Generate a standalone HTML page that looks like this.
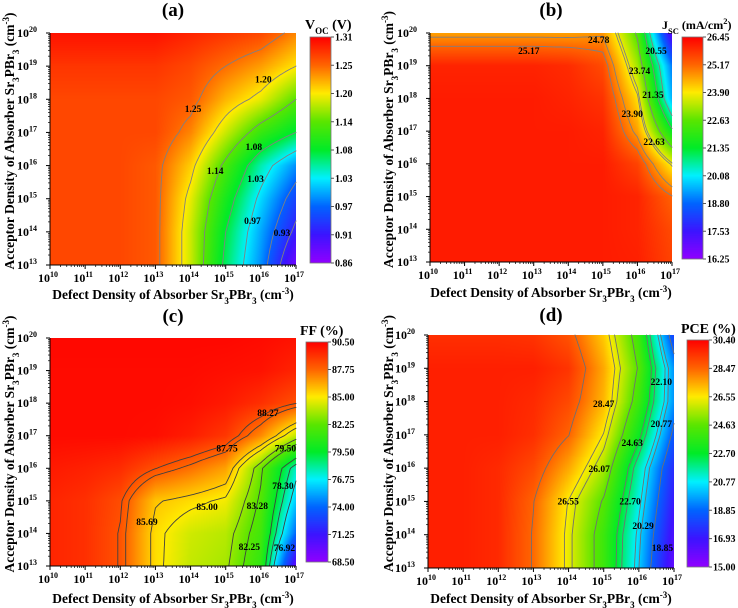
<!DOCTYPE html>
<html><head><meta charset="utf-8">
<style>
html,body{margin:0;padding:0;background:#fff;}
#wrap{position:relative;width:738px;height:608px;overflow:hidden;font-family:"Liberation Serif",serif;}
canvas{position:absolute;}
svg{position:absolute;left:0;top:0;}
text{font-family:"Liberation Serif","DejaVu Serif",serif;font-weight:bold;fill:#000;}
</style></head>
<body>
<div id="wrap">
<canvas id="cv-a"></canvas>
<canvas id="cv-b"></canvas>
<canvas id="cv-c"></canvas>
<canvas id="cv-d"></canvas>
<canvas id="cb-a"></canvas>
<canvas id="cb-b"></canvas>
<canvas id="cb-c"></canvas>
<canvas id="cb-d"></canvas>
<svg id="ov" width="738" height="608" font-family="Liberation Serif, DejaVu Serif, serif" font-weight="bold"></svg>
</div>
<script>
// x: defect density decades, y: acceptor density decades
const defectDecades = [10,11,12,13,14,15,16,17];
const acceptorDecades = [20,19,18,17,16,15,14,13]; // rows top to bottom

const vocGrid = [
[1.30,1.30,1.30,1.30,1.29,1.28,1.27,1.24],
[1.28,1.28,1.28,1.28,1.27,1.25,1.23,1.20],
[1.27,1.27,1.27,1.27,1.26,1.22,1.19,1.14],
[1.27,1.27,1.27,1.27,1.24,1.18,1.12,1.08],
[1.27,1.27,1.27,1.26,1.21,1.13,1.05,0.99],
[1.27,1.27,1.27,1.26,1.19,1.10,1.02,0.95],
[1.27,1.27,1.27,1.26,1.18,1.08,1.00,0.92],
[1.27,1.27,1.27,1.26,1.18,1.07,0.99,0.88]];
const jscGrid = [
[24.6,24.6,24.6,24.6,24.6,24.7,22.5,17.0],
[26.0,26.0,26.0,26.0,25.9,25.5,23.2,19.0],
[26.1,26.1,26.1,26.1,26.0,25.8,24.0,19.5],
[26.1,26.1,26.1,26.1,26.1,26.0,24.6,21.5],
[26.1,26.1,26.1,26.1,26.1,26.1,25.6,23.8],
[26.1,26.1,26.1,26.1,26.1,26.1,26.0,25.2],
[26.1,26.1,26.1,26.1,26.1,26.1,26.0,25.5],
[26.1,26.1,26.1,26.1,26.1,26.1,26.05,25.6]];
const ffGrid = [
[90.3,90.3,90.3,90.3,90.3,90.3,90.2,90.0],
[90.2,90.2,90.2,90.2,90.2,90.1,90.0,89.5],
[90.2,90.2,90.2,90.2,90.1,89.8,89.2,88.3],
[90.2,90.2,90.2,90.1,89.7,89.0,87.0,84.0],
[89.8,89.6,89.3,88.3,87.5,86.5,82.5,77.5],
[89.5,89.2,88.4,85.8,85.3,84.8,82.0,76.0],
[89.5,89.2,88.2,85.3,84.2,83.8,81.5,74.0],
[89.5,89.2,88.2,85.3,84.0,83.5,81.0,70.0]];
const pceGrid = [
[29.5,29.5,29.5,29.4,28.8,27.0,24.0,18.0],
[29.8,29.8,29.8,29.8,29.4,27.5,24.5,19.5],
[29.8,29.8,29.8,29.6,29.0,27.3,24.0,19.5],
[29.8,29.8,29.8,29.5,28.5,26.5,23.0,18.5],
[29.8,29.8,29.6,29.0,27.5,25.5,21.5,17.5],
[29.8,29.8,29.6,28.5,26.5,24.5,21.0,17.0],
[29.8,29.8,29.6,28.4,26.3,24.0,20.5,16.5],
[29.8,29.8,29.6,28.4,26.3,24.0,20.3,16.0]];

const vocTicks = ["1.31","1.25","1.20","1.14","1.08","1.03","0.97","0.91","0.86"];
const jscTicks = ["26.45","25.17","23.90","22.63","21.35","20.08","18.80","17.53","16.25"];
const ffTicks = ["90.50","87.75","85.00","82.25","79.50","76.75","74.00","71.25","68.50"];
const pceTicks = ["30.40","28.47","26.55","24.63","22.70","20.77","18.85","16.93","15.00"];

const vocLabels = [1.25,1.20,1.14,1.08,1.03,0.97,0.93];
const vocLabelX = [14.07,16.07,14.7,15.8,15.85,15.76,16.6];
const vocLabelY = [17.7,18.6,15.84,16.56,15.6,14.33,13.97];
const jscLabels = [25.17,24.78,20.55,23.74,21.35,23.90,22.63];
const jscLabelX = [12.86,14.88,16.54,16.06,16.45,15.85,16.48];
const jscLabelY = [19.45,19.79,19.45,18.84,18.1,17.52,16.67];
const ffLabels = [88.27,87.75,79.50,78.30,85.00,83.28,85.69,82.25,76.92];
const ffLabelX = [16.2,15.04,16.7,16.63,14.47,15.9,12.76,15.67,16.67];
const ffLabelY = [17.7,16.6,16.6,15.45,14.81,14.84,14.35,13.58,13.55];
const pceLabels = [28.47,22.10,20.77,24.63,26.07,26.55,22.70,20.29,18.85];
const pceLabelX = [15.0,16.64,16.64,15.81,14.87,13.99,15.75,16.12,16.67];
const pceLabelY = [17.92,18.59,17.33,16.75,15.97,15.0,15.0,14.26,13.6];

const panels = [
 {id:'a',grid:vocGrid,ticks:vocTicks,labels:vocLabels,lx:vocLabelX,ly:vocLabelY,
  plot:[50,33,296,265],cb:[310,37,331,263],title:'(a)',titleY:16,cbTitle:'V<tspan baseline-shift="sub" font-size="9">OC</tspan> (V)',cbTitleX:305,cbTitleY:29,cbSize:14,yTitleX:10,xTitleY:295,line:'#808080'},
 {id:'b',grid:jscGrid,ticks:jscTicks,labels:jscLabels,lx:jscLabelX,ly:jscLabelY,
  plot:[430,33,672,262],cb:[682,37,703,259],title:'(b)',titleY:16,cbTitle:'J<tspan baseline-shift="sub" font-size="8.5">SC</tspan> (mA/cm<tspan baseline-shift="super" font-size="8.5">2</tspan>)',cbTitleX:662,cbTitleY:29,cbSize:12,yTitleX:389,xTitleY:293,line:'#808080'},
 {id:'c',grid:ffGrid,ticks:ffTicks,labels:ffLabels,lx:ffLabelX,ly:ffLabelY,
  plot:[50,338,296,566],cb:[306,342,328,562],title:'(c)',titleY:322,cbTitle:'FF (%)',cbTitleX:300,cbTitleY:335,cbSize:14,yTitleX:10,xTitleY:599,line:'#404040'},
 {id:'d',grid:pceGrid,ticks:pceTicks,labels:pceLabels,lx:pceLabelX,ly:pceLabelY,
  plot:[428,335,674,568],cb:[687,340,709,567],title:'(d)',titleY:321,cbTitle:'PCE (%)',cbTitleX:681,cbTitleY:333,cbSize:14,yTitleX:389,xTitleY:599,line:'#707070'}
];

const stops=[[0,[144,0,255]],[0.125,[60,20,255]],[0.25,[0,100,255]],[0.375,[0,240,255]],[0.5,[0,235,40]],[0.625,[90,230,0]],[0.75,[255,235,0]],[0.875,[255,100,0]],[1,[255,0,0]]];
function cmap(t){t=Math.max(0,Math.min(1,t));for(let i=1;i<stops.length;i++){if(t<=stops[i][0]){const a=stops[i-1],b=stops[i];const f=(t-a[0])/(b[0]-a[0]);return [0,1,2].map(k=>Math.round(a[1][k]+(b[1][k]-a[1][k])*f));}}return stops[stops.length-1][1];}

function sample(grid,xd,yd){
  const c=Math.max(0,Math.min(6.9999,xd-defectDecades[0]));
  const r=Math.max(0,Math.min(6.9999,acceptorDecades[0]-yd));
  const c0=Math.floor(c),r0=Math.floor(r),fc=c-c0,fr=r-r0;
  const v00=grid[r0][c0],v01=grid[r0][c0+1],v10=grid[r0+1][c0],v11=grid[r0+1][c0+1];
  return v00*(1-fc)*(1-fr)+v01*fc*(1-fr)+v10*(1-fc)*fr+v11*fc*fr;
}
const NS='http://www.w3.org/2000/svg';
const ov=document.getElementById('ov');
const FF='Liberation Serif, DejaVu Serif, serif';
function mk(tag,attrs,parent){const e=document.createElementNS(NS,tag);for(const k in attrs)e.setAttribute(k,attrs[k]);if(tag==='text'){e.setAttribute('font-family',FF);e.setAttribute('font-weight','bold');}(parent||ov).appendChild(e);return e;}

panels.forEach(p=>{
  const [L,T,R,B]=p.plot;const W=R-L,H=B-T;
  const vmax=parseFloat(p.ticks[0]),vmin=parseFloat(p.ticks[p.ticks.length-1]);
  const xMin=defectDecades[0],xMax=defectDecades[defectDecades.length-1];
  const yMin=acceptorDecades[acceptorDecades.length-1],yMax=acceptorDecades[0];
  const xs=d=>L+(d-xMin)/(xMax-xMin)*W;
  const ys=d=>B-(d-yMin)/(yMax-yMin)*H;
  const cv=document.getElementById('cv-'+p.id);cv.width=W;cv.height=H;cv.style.left=L+'px';cv.style.top=T+'px';
  const ctx=cv.getContext('2d');const img=ctx.createImageData(W,H);
  for(let j=0;j<H;j++)for(let i=0;i<W;i++){
    const xd=xMin+(i+0.5)/W*(xMax-xMin),yd=yMax-(j+0.5)/H*(yMax-yMin);
    const col=cmap((sample(p.grid,xd,yd)-vmin)/(vmax-vmin));const o=(j*W+i)*4;
    img.data[o]=col[0];img.data[o+1]=col[1];img.data[o+2]=col[2];img.data[o+3]=255;}
  ctx.putImageData(img,0,0);
  const g=mk('g',{});
  
  
  const N=84;const val=[];
  for(let j=0;j<=N;j++){val.push([]);for(let i=0;i<=N;i++)val[j].push(sample(p.grid,xMin+(i+0.013)/(N+0.026)*(xMax-xMin),yMax-(j+0.013)/(N+0.026)*(yMax-yMin)));}
  p.labels.forEach(lv0=>{
    const lv=lv0+1.3e-6;
    let d='';
    const P=(i,j)=>[L+i/N*W,T+j/N*H];
    for(let j=0;j<N;j++)for(let i=0;i<N;i++){
      const a=val[j][i],b=val[j][i+1],c=val[j+1][i+1],e=val[j+1][i];
      const pts=[];
      const ed=(v1,v2,p1,p2)=>{if((v1-lv)*(v2-lv)<0){const f=(lv-v1)/(v2-v1);pts.push([p1[0]+(p2[0]-p1[0])*f,p1[1]+(p2[1]-p1[1])*f]);}};
      ed(a,b,P(i,j),P(i+1,j));ed(b,c,P(i+1,j),P(i+1,j+1));ed(c,e,P(i+1,j+1),P(i,j+1));ed(e,a,P(i,j+1),P(i,j));
      for(let k=0;k+1<pts.length;k+=2)d+='M'+pts[k][0].toFixed(1)+' '+pts[k][1].toFixed(1)+'L'+pts[k+1][0].toFixed(1)+' '+pts[k+1][1].toFixed(1);
    }
    const path=mk('path',{d:d,stroke:p.line,'stroke-width':0.9,fill:'none','stroke-linecap':'round'},g);
    
    
  });
  p.labels.forEach((lv,k)=>{
    const t=mk('text',{x:xs(p.lx[k]),y:ys(p.ly[k])+3,'font-size':9.5,'text-anchor':'middle'});
    
    
    t.textContent=lv.toFixed(2);
  });
  mk('line',{x1:L,y1:T,x2:L,y2:B,stroke:'#000','stroke-width':1});
  mk('line',{x1:L,y1:B,x2:R,y2:B,stroke:'#000','stroke-width':1});
  for(let d=xMin;d<=xMax;d++){
    const x=xs(d);mk('line',{x1:x,y1:B,x2:x,y2:B+4,stroke:'#000'});
    const t=mk('text',{x:x-2,y:B+17,'font-size':12,'text-anchor':'middle'});
    
    
    t.innerHTML='10<tspan dy="-5" font-size="8">'+d+'</tspan>';
    if(d<xMax)for(let m=2;m<10;m++){const xm=xs(d+Math.log10(m));mk('line',{x1:xm,y1:B,x2:xm,y2:B+2,stroke:'#000','stroke-width':0.7});}
  }
  for(let d=yMin;d<=yMax;d++){
    const y=ys(d);mk('line',{x1:L-4,y1:y,x2:L,y2:y,stroke:'#000'});
    const t=mk('text',{x:L-13,y:y+4,'font-size':12,'text-anchor':'end'});
    
    
    t.innerHTML='10<tspan dy="-5" font-size="8">'+d+'</tspan>';
    if(d<yMax)for(let m=2;m<10;m++){const ym=ys(d+Math.log10(m));mk('line',{x1:L-2,y1:ym,x2:L,y2:ym,stroke:'#000','stroke-width':0.7});}
  }
  const xt=mk('text',{x:(L+R)/2,y:p.xTitleY+4,'font-size':13.5,'text-anchor':'middle'});
  
  
  xt.innerHTML='Defect Density of Absorber Sr<tspan baseline-shift="sub" font-size="9">3</tspan>PBr<tspan baseline-shift="sub" font-size="9">3</tspan> (cm<tspan baseline-shift="super" font-size="9">-3</tspan>)';
  const yt=mk('text',{x:0,y:0,'font-size':13.5,'text-anchor':'middle',transform:'translate('+(p.yTitleX+4)+','+((T+B)/2-8)+') rotate(-90)'});
  
  
  yt.innerHTML='Acceptor Density of Absorber Sr<tspan baseline-shift="sub" font-size="9">3</tspan>PBr<tspan baseline-shift="sub" font-size="9">3</tspan> (cm<tspan baseline-shift="super" font-size="9">-3</tspan>)';
  const pt=mk('text',{x:(L+R)/2,y:p.titleY,'font-size':19,'text-anchor':'middle'});
  
  
  pt.textContent=p.title;
  const [cl,ct,cr,cbb]=p.cb;const cw=cr-cl,ch=cbb-ct;
  const cb=document.getElementById('cb-'+p.id);cb.width=cw;cb.height=ch;cb.style.left=cl+'px';cb.style.top=ct+'px';
  const c2=cb.getContext('2d');
  for(let j=0;j<ch;j++){const col=cmap(1-(j+0.5)/ch);c2.fillStyle='rgb('+col.join(',')+')';c2.fillRect(0,j,cw,1);}
  mk('rect',{x:cl,y:ct,width:cw,height:ch,fill:'none',stroke:'#777','stroke-width':0.8});
  p.ticks.forEach((tk,k)=>{
    const y=ct+k/(p.ticks.length-1)*ch;
    mk('line',{x1:cr,y1:y,x2:cr+3,y2:y,stroke:'#555'});
    const t=mk('text',{x:cr+4,y:y+3.5,'font-size':10,'text-anchor':'start'});
    
    
    t.textContent=tk;
  });
  const cbt=mk('text',{x:p.cbTitleX,y:p.cbTitleY,'font-size':p.cbSize,'text-anchor':'start'});
  
  
  cbt.innerHTML=p.cbTitle;
});
</script>
</body></html>
